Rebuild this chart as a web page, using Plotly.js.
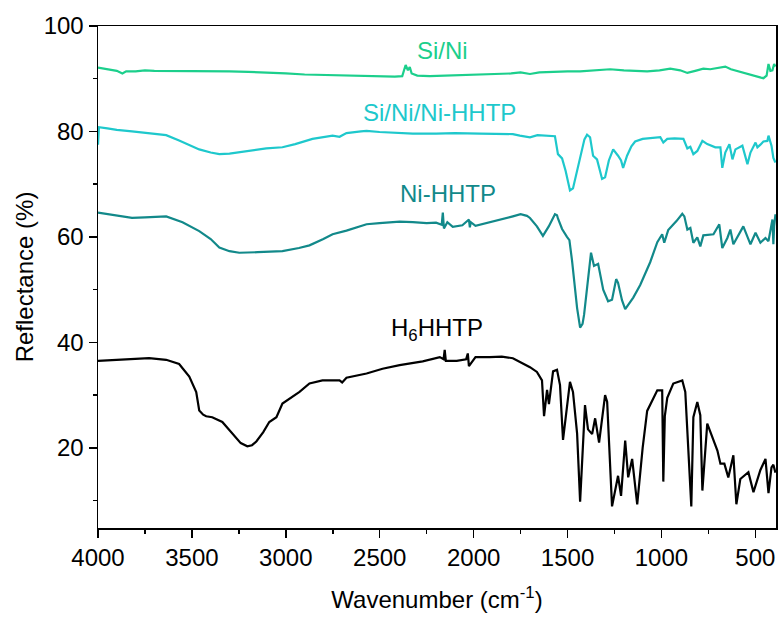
<!DOCTYPE html>
<html>
<head>
<meta charset="utf-8">
<script src="https://cdn.plot.ly/plotly-3.0.1.min.js"></script>
<style>html,body{margin:0;padding:0;background:#fff;}#chart{width:781px;height:618px;}</style>
</head>
<body>
<div id="chart"></div>
<script>
// ---- Data ----
const siNiX = [4000, 3950, 3900, 3870, 3850, 3800, 3750, 3700, 3600, 3500, 3400, 3300, 3200, 3100, 3000, 2900, 2800, 2700, 2600, 2500, 2420, 2380, 2362, 2350, 2340, 2330, 2300, 2234, 2150, 2050, 1950, 1876, 1800, 1750, 1700, 1650, 1600, 1550, 1500, 1433, 1350, 1273, 1200, 1140, 1076, 1010, 953, 900, 862, 820, 777, 740, 700, 660, 630, 600, 570, 542, 500, 470, 457, 440, 430, 420, 409, 400, 393];
const siNiY = [92.1, 91.8, 91.5, 91.0, 91.4, 91.4, 91.6, 91.5, 91.5, 91.4, 91.4, 91.4, 91.3, 91.2, 91.0, 90.8, 90.7, 90.6, 90.5, 90.5, 90.4, 90.5, 92.6, 91.6, 92.2, 91.0, 90.6, 90.5, 90.6, 90.8, 90.9, 90.9, 91.0, 91.2, 90.9, 91.2, 91.3, 91.4, 91.4, 91.4, 91.6, 91.8, 91.6, 91.5, 91.4, 91.6, 91.9, 91.6, 91.1, 91.5, 91.9, 91.8, 92.0, 92.3, 91.8, 91.5, 91.2, 90.8, 90.5, 90.2, 90.1, 90.6, 92.8, 91.5, 91.6, 92.8, 92.3];

const siNiHhtpX = [4000, 3995, 3950, 3900, 3819, 3750, 3700, 3637, 3568, 3500, 3461, 3400, 3354, 3300, 3248, 3180, 3104, 3018, 2950, 2858, 2800, 2751, 2714, 2677, 2600, 2570, 2501, 2394, 2324, 2200, 2100, 1967, 1850, 1791, 1754, 1700, 1660, 1609, 1567, 1551, 1529, 1510, 1487, 1471, 1450, 1433, 1410, 1396, 1380, 1364, 1343, 1316, 1300, 1280, 1257, 1231, 1215, 1204, 1183, 1160, 1140, 1100, 1076, 1040, 1006, 990, 969, 930, 883, 862, 846, 830, 809, 782, 756, 713, 686, 676, 660, 638, 622, 606, 569, 542, 526, 499, 489, 473, 457, 436, 430, 414, 404, 393];
const siNiHhtpY = [77.5, 80.8, 80.6, 80.3, 80.0, 79.7, 79.5, 79.3, 78.3, 77.3, 76.6, 76.0, 75.7, 75.8, 76.1, 76.5, 76.8, 77.0, 77.6, 78.6, 79.0, 79.2, 79.0, 79.7, 80.0, 80.1, 79.9, 79.7, 79.6, 79.6, 79.7, 79.6, 79.6, 79.5, 79.2, 78.9, 79.3, 79.2, 79.1, 75.7, 74.9, 72.5, 68.8, 69.2, 72.5, 75.0, 78.5, 79.4, 78.9, 75.4, 74.7, 71.0, 71.3, 74.5, 76.6, 75.4, 74.5, 73.1, 75.4, 77.2, 78.1, 78.6, 78.7, 78.9, 78.9, 77.9, 78.6, 78.7, 78.6, 76.8, 77.1, 75.7, 76.3, 78.2, 77.6, 77.0, 77.0, 73.1, 76.0, 77.6, 74.7, 76.6, 77.3, 73.8, 76.0, 77.9, 77.0, 77.5, 78.1, 78.2, 79.2, 77.3, 75.0, 74.1];

const niHhtpX = [4000, 3950, 3900, 3819, 3750, 3637, 3550, 3461, 3400, 3354, 3300, 3248, 3150, 3018, 2930, 2874, 2800, 2751, 2677, 2570, 2501, 2394, 2324, 2250, 2200, 2170, 2164, 2158, 2140, 2111, 2060, 2025, 2020, 2015, 1990, 1930, 1850, 1791, 1750, 1716, 1700, 1663, 1631, 1600, 1567, 1556, 1551, 1529, 1503, 1490, 1476, 1460, 1449, 1433, 1420, 1412, 1395, 1375, 1359, 1337, 1310, 1284, 1263, 1241, 1231, 1210, 1193, 1150, 1113, 1060, 1022, 996, 985, 964, 920, 889, 878, 862, 846, 830, 809, 793, 777, 723, 692, 676, 649, 633, 617, 564, 526, 499, 473, 446, 430, 409, 404, 400, 393];
const niHhtpY = [64.6, 64.3, 64.0, 63.6, 63.7, 63.9, 62.8, 61.1, 59.6, 58.0, 57.3, 57.0, 57.1, 57.3, 57.9, 58.4, 59.6, 60.5, 61.2, 62.4, 62.6, 62.9, 62.8, 62.6, 62.7, 62.3, 64.6, 61.6, 62.8, 61.9, 62.2, 63.3, 61.8, 62.8, 62.1, 62.6, 63.3, 63.9, 64.3, 64.0, 63.6, 62.0, 60.2, 62.0, 64.3, 64.1, 63.5, 61.5, 60.0, 59.4, 55.5, 50.0, 46.5, 42.8, 43.5, 45.2, 51.0, 57.0, 54.5, 54.9, 50.0, 47.8, 48.1, 52.0, 51.3, 48.0, 46.3, 48.5, 50.9, 55.2, 59.0, 60.5, 58.9, 61.3, 63.0, 64.4, 63.9, 61.4, 61.7, 58.9, 59.9, 58.2, 60.3, 60.5, 62.4, 57.9, 59.8, 61.4, 58.6, 62.0, 58.6, 60.8, 58.9, 59.8, 59.2, 63.3, 58.6, 62.0, 64.3];

const h6HhtpX = [4000, 3900, 3800, 3728, 3637, 3568, 3514, 3477, 3461, 3440, 3424, 3392, 3338, 3285, 3240, 3205, 3180, 3157, 3120, 3088, 3050, 3018, 2960, 2927, 2874, 2805, 2714, 2700, 2677, 2570, 2485, 2394, 2271, 2180, 2160, 2154, 2148, 2090, 2040, 2031, 2025, 1990, 1914, 1850, 1791, 1738, 1700, 1663, 1636, 1625, 1609, 1599, 1577, 1556, 1540, 1524, 1500, 1487, 1471, 1449, 1433, 1420, 1407, 1391, 1369, 1353, 1332, 1300, 1289, 1263, 1245, 1231, 1215, 1193, 1177, 1156, 1129, 1100, 1076, 1022, 996, 990, 982, 969, 937, 889, 873, 862, 841, 830, 809, 793, 782, 756, 723, 702, 686, 665, 644, 617, 601, 580, 537, 510, 473, 446, 430, 414, 404, 393];
const h6HhtpY = [36.5, 36.7, 36.9, 37.0, 36.7, 35.9, 33.5, 30.6, 27.1, 26.3, 26.0, 25.8, 24.9, 22.7, 20.9, 20.3, 20.5, 21.2, 23.0, 24.9, 25.8, 28.4, 29.8, 30.6, 32.2, 32.8, 32.8, 32.4, 33.3, 34.1, 35.0, 35.7, 36.4, 37.2, 36.8, 38.6, 36.5, 36.5, 36.8, 37.9, 35.5, 37.2, 37.2, 37.3, 37.0, 36.1, 35.3, 34.4, 32.8, 26.0, 31.0, 28.3, 34.5, 34.8, 31.9, 21.5, 28.0, 32.5, 30.6, 22.7, 9.8, 20.0, 28.1, 23.5, 22.6, 25.6, 21.0, 30.0, 28.7, 8.9, 12.5, 14.7, 10.9, 21.4, 14.4, 17.9, 9.3, 20.0, 27.0, 30.9, 30.9, 13.6, 26.0, 29.5, 32.2, 32.8, 30.6, 22.4, 8.9, 25.8, 28.7, 26.2, 11.9, 24.6, 21.7, 19.5, 17.0, 17.0, 14.4, 18.6, 9.3, 14.1, 15.4, 11.6, 15.8, 17.9, 11.4, 16.3, 16.8, 15.3];

const seriesNames = ["Si/Ni", "Si/Ni/Ni-HHTP", "Ni-HHTP", "H<sub>6</sub>HHTP"];
const labelX = [2164, 2180, 2138, 2196];
const labelY = [95.4, 83.6, 68.3, 42.4];
const xTickVals = [4000, 3500, 3000, 2500, 2000, 1500, 1000, 500];
const yTickVals = [20, 40, 60, 80, 100];

// ---- Styling ----
const colors = ["#1ccf8c", "#1ec8cc", "#12898a", "#000000"];
const FONT = "Liberation Sans, Arial, sans-serif";

const xs = [siNiX, siNiHhtpX, niHhtpX, h6HhtpX];
const ys = [siNiY, siNiHhtpY, niHhtpY, h6HhtpY];
const traces = xs.map((x, i) => ({
  x: x, y: ys[i], type: "scatter", mode: "lines",
  line: {color: colors[i], width: 2.2}, name: seriesNames[i], hoverinfo: "skip"
}));

const annotations = seriesNames.map((t, i) => ({
  x: labelX[i], y: labelY[i], xref: "x", yref: "y", text: t, showarrow: false,
  font: {family: FONT, size: 24, color: colors[i]}
}));

const axisCommon = {
  showgrid: false, zeroline: false, showline: true, linecolor: "#000", linewidth: 1.5,
  mirror: true, ticks: "outside", tickcolor: "#000", tickwidth: 1.5, ticklen: 8,
  tickfont: {family: FONT, size: 24, color: "#000"}
};

const layout = {
  width: 781, height: 618,
  margin: {l: 98, r: 5, t: 26, b: 90},
  paper_bgcolor: "#fff", plot_bgcolor: "#fff",
  showlegend: false,
  xaxis: Object.assign({}, axisCommon, {
    range: [4000, 390], tickvals: xTickVals, ticktext: xTickVals.map(String),
    minor: {ticks: "outside", ticklen: 4, dtick: 250, tick0: 0, tickcolor: "#000", tickwidth: 1.5},
    title: {text: "Wavenumber (cm<sup>-1</sup>)", font: {family: FONT, size: 24, color: "#000"}, standoff: 21}
  }),
  yaxis: Object.assign({}, axisCommon, {
    range: [4.8, 100], tickvals: yTickVals, ticktext: yTickVals.map(String),
    minor: {ticks: "outside", ticklen: 4, dtick: 10, tick0: 0, tickcolor: "#000", tickwidth: 1.5},
    title: {text: "Reflectance (%)", font: {family: FONT, size: 24, color: "#000"}, standoff: 3}
  }),
  annotations: annotations
};

Plotly.newPlot("chart", traces, layout, {displayModeBar: false, staticPlot: true});
</script>
</body>
</html>
